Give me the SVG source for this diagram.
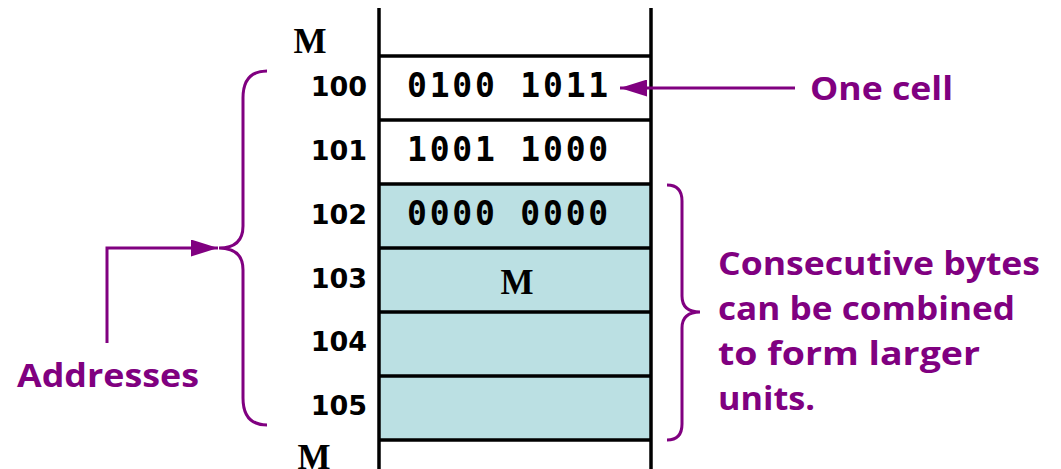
<svg xmlns="http://www.w3.org/2000/svg" width="1061" height="469" viewBox="0 0 1061 469">
  <style>
    .mem { stroke: #000; stroke-width: 3.5; fill: none; }
    .cell { fill: #BBE0E3; }
    .addr { font-family: "DejaVu Sans", sans-serif; font-weight: bold; font-size: 27px; fill: #000; text-anchor: end; }
    .bits { font-family: "DejaVu Sans Mono", monospace; font-weight: bold; font-size: 33px; fill: #000; letter-spacing: 2.8px; }
    .ellipsis { font-family: "Liberation Serif", serif; font-weight: bold; font-size: 35px; fill: #000; }
    .note { font-family: "Comic Sans MS", "Open Sans", sans-serif; font-weight: bold; font-size: 32px; fill: #800080; }
    .link { stroke: #800080; stroke-width: 3; fill: none; }
  </style>
  <defs>
    <marker id="headL" markerWidth="27" markerHeight="17" refX="27" refY="8.5" orient="auto" markerUnits="userSpaceOnUse" viewBox="0 0 27 17">
      <path d="M0,0 L27,8.5 L0,17 Z" fill="#800080"/>
    </marker>
  </defs>

  <rect width="1061" height="469" fill="#fff"/>

  <!-- memory column -->
  <g id="memory">
    <rect class="cell" x="379" y="184" width="272" height="256"/>
    <line class="mem" x1="379" y1="8" x2="379" y2="469"/>
    <line class="mem" x1="651" y1="8" x2="651" y2="469"/>
    <line class="mem" x1="379" y1="56" x2="651" y2="56"/>
    <line class="mem" x1="379" y1="120" x2="651" y2="120"/>
    <line class="mem" x1="379" y1="184" x2="651" y2="184"/>
    <line class="mem" x1="379" y1="248" x2="651" y2="248"/>
    <line class="mem" x1="379" y1="312" x2="651" y2="312"/>
    <line class="mem" x1="379" y1="376" x2="651" y2="376"/>
    <line class="mem" x1="379" y1="440" x2="651" y2="440"/>
  </g>

  <g id="cell-100">
    <text class="addr" x="367" y="96">100</text>
    <text class="bits" x="407" y="97">0100 1011</text>
  </g>
  <g id="cell-101">
    <text class="addr" x="367" y="160">101</text>
    <text class="bits" x="407" y="161">1001 1000</text>
  </g>
  <g id="cell-102">
    <text class="addr" x="367" y="224">102</text>
    <text class="bits" x="407" y="225">0000 0000</text>
  </g>
  <g id="cell-103">
    <text class="addr" x="367" y="288">103</text>
    <text class="ellipsis" x="517" y="294" text-anchor="middle">M</text>
  </g>
  <g id="cell-104">
    <text class="addr" x="367" y="351">104</text>
  </g>
  <g id="cell-105">
    <text class="addr" x="367" y="415">105</text>
  </g>
  <g id="ellipsis-top">
    <text class="ellipsis" x="310" y="53" text-anchor="middle">M</text>
  </g>
  <g id="ellipsis-bottom">
    <text class="ellipsis" x="314" y="469" text-anchor="middle">M</text>
  </g>

  <!-- annotations -->
  <g id="label-one-cell">
    <text class="note" x="810" y="100" textLength="143" lengthAdjust="spacingAndGlyphs">One cell</text>
  </g>
  <g id="label-addresses">
    <text class="note" x="17" y="387" textLength="182" lengthAdjust="spacingAndGlyphs">Addresses</text>
  </g>
  <g id="label-bytes">
    <text class="note" x="718" y="275" textLength="322" lengthAdjust="spacingAndGlyphs">Consecutive bytes</text>
    <text class="note" x="718" y="320" textLength="297" lengthAdjust="spacingAndGlyphs">can be combined</text>
    <text class="note" x="718" y="365" textLength="262" lengthAdjust="spacingAndGlyphs">to form larger</text>
    <text class="note" x="718" y="410" textLength="97" lengthAdjust="spacingAndGlyphs">units.</text>
  </g>

  <g id="connectors">
    <line class="link" x1="795" y1="88" x2="620" y2="88" marker-end="url(#headL)"/>
    <path class="link" d="M107,343 L107,248 L218,248" marker-end="url(#headL)"/>
    <path class="link" d="M267,71 Q243,71 243,98 L243,226 Q243,248 219,248 Q243,248 243,270 L243,398 Q243,425 267,425"/>
    <path class="link" d="M667,185 Q682,185 682,201 L682,296 Q682,312 700,312 Q682,312 682,328 L682,424 Q682,440 667,440"/>
  </g>
</svg>
